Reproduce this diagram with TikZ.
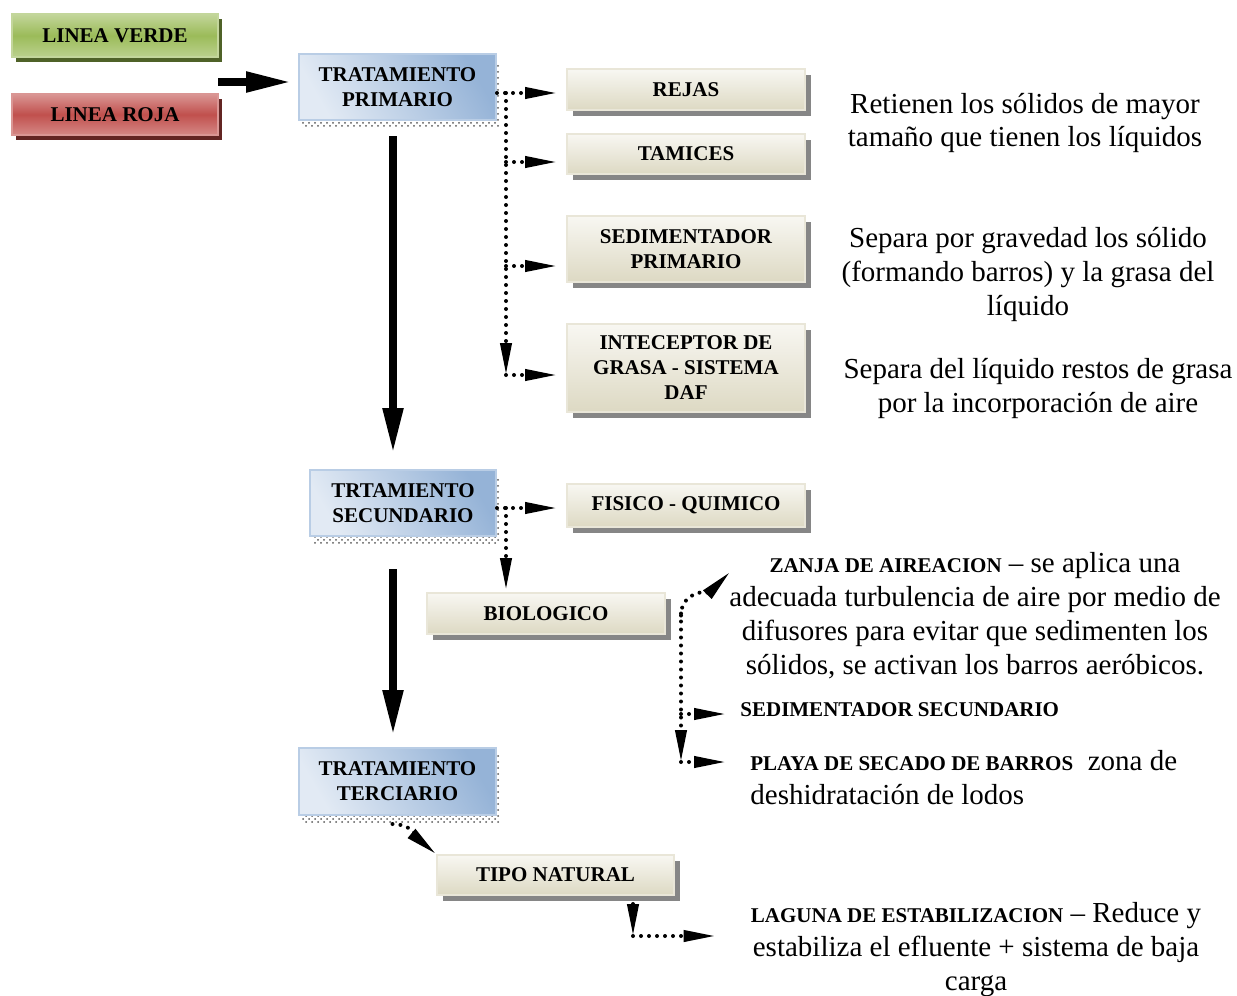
\documentclass[tikz,border=0pt]{standalone}
\usepackage{fontspec}
\setmainfont{Liberation Serif}
\usepackage{xcolor}
\usepackage{tikz}
\usetikzlibrary{calc}
\usetikzlibrary{arrows.meta,positioning,shadows}
\usetikzlibrary{patterns}

\definecolor{azulclaro}{HTML}{E2EAF4}
\definecolor{azuloscuro}{HTML}{95B3D7}
\definecolor{azulborde}{HTML}{B9CDE5}
\definecolor{beigeclaro}{HTML}{F8F7F2}
\definecolor{beigeoscuro}{HTML}{DDD9C3}
\definecolor{beigeborde}{HTML}{E9E6D8}
\definecolor{verdeclaro}{HTML}{C3D69B}
\definecolor{verdemedio}{HTML}{9BBB59}
\definecolor{verdesombra}{HTML}{4F6228}
\definecolor{rojoclaro}{HTML}{DA9694}
\definecolor{rojomedio}{HTML}{C0504D}
\definecolor{rojosombra}{HTML}{632523}

\newcommand{\textocaja}{\fontsize{10.5}{12.5}\selectfont\bfseries}
\newcommand{\textonota}{\fontsize{14.5}{17}\selectfont}

\tikzset{
  caja/.style={draw, line width=1pt, align=center, font=\textocaja, inner sep=0pt},
  caja azul/.style={caja, draw=azulborde, left color=azulclaro, right color=azuloscuro, shading angle=120,
    drop shadow={shadow xshift=1.5pt, shadow yshift=-3.5pt, fill=gray!45, pattern=crosshatch dots, pattern color=black!65, opacity=1}},
  caja beige/.style={caja, draw=beigeborde, top color=beigeclaro, bottom color=beigeoscuro,
    minimum width=119pt, drop shadow={shadow xshift=3pt, shadow yshift=-3pt, fill=gray!95, opacity=1}},
  caja verde/.style={caja, draw=verdeclaro, top color=verdeclaro, bottom color=verdeclaro!80!verdemedio, middle color=verdemedio,
    minimum width=103pt, drop shadow={shadow xshift=2pt, shadow yshift=-2.5pt, fill=verdesombra, opacity=1}},
  caja roja/.style={caja, draw=rojoclaro, top color=rojoclaro, bottom color=rojoclaro!80!rojomedio, middle color=rojomedio,
    minimum width=103pt, drop shadow={shadow xshift=2pt, shadow yshift=-2.5pt, fill=rojosombra, opacity=1}},
  nota/.style={align=center, font=\textonota, inner sep=0pt},
  flecha/.style={line width=4pt, -{Triangle[length=23pt,width=9.5pt]}},
  punteada/.style={line width=2pt, line cap=round, dash pattern=on 0pt off 4pt,
    -{Triangle[length=16pt,width=5.5pt]}}
}

\begin{document}
\begin{tikzpicture}[x=0.5pt,y=-0.5pt]
	\useasboundingbox (0,0) rectangle (1237,996);
	\node[caja verde, minimum height=21.5pt] (verde) at (115,35.5) {LINEA VERDE};
	\node[caja roja, minimum height=20.5pt] (roja) at (115,114.5) {LINEA ROJA};
	\node[caja azul, minimum width=98.5pt, minimum height=33pt] (prim) at (397.5,87) {TRATAMIENTO\\PRIMARIO};
	\node[caja azul, minimum width=93pt, minimum height=33pt] (sec) at (403,503) {TRTAMIENTO\\SECUNDARIO};
	\node[caja azul, minimum width=98.5pt, minimum height=33.5pt] (ter) at (397.5,781.5) {TRATAMIENTO\\TERCIARIO};
	\node[caja beige, minimum height=20.5pt] (rejas) at (686,89.5) {REJAS};
	\node[caja beige, minimum height=20pt] (tam) at (686,154) {TAMICES};
	\node[caja beige, minimum height=33pt] (sed) at (686,249) {SEDIMENTADOR\\PRIMARIO};
	\node[caja beige, minimum height=44pt] (int) at (686,368) {INTECEPTOR DE\\GRASA - SISTEMA\\DAF};
	\node[caja beige, minimum height=21.5pt] (fis) at (686,505.5) {FISICO - QUIMICO};
	\node[caja beige, minimum height=20.5pt] (bio) at (546,613.5) {BIOLOGICO};
	\node[caja beige, minimum width=118.5pt, minimum height=20pt] (tipo) at (555.5,875) {TIPO NATURAL};

	\node[nota] (ret) at (1025,123) {Retienen los sólidos de mayor\\tamaño que tienen los líquidos};
	\node[nota] (grav) at (1028,274) {Separa por gravedad los sólido\\(formando barros) y la grasa del\\líquido};
	\node[nota] (aire) at (1038,388) {Separa del líquido restos de grasa\\por la incorporación de aire};
	\node[nota] (zanja) at (975,616) {{\textocaja ZANJA DE AIREACION} – se aplica una\\adecuada turbulencia de aire por medio de\\difusores para evitar que sedimenten los\\sólidos, se activan los barros aeróbicos.};
	\node[nota, anchor=west] (sedsec) at (740,710) {\textocaja SEDIMENTADOR SECUNDARIO};
	\node[nota, align=left, anchor=north west] (playa) at (750,750) {{\textocaja PLAYA DE SECADO DE BARROS}\ \ zona de\\deshidratación de lodos};
	\node[nota] (laguna) at (976,950) {{\textocaja LAGUNA DE ESTABILIZACION} – Reduce y\\estabiliza el efluente + sistema de baja\\carga};

	\coordinate (entrada) at (218,82);
	\draw[flecha, shorten >=3pt] (entrada) -- (entrada -| prim.west);
	\draw[flecha, shorten <=7.5pt, shorten >=7.5pt] ([xshift=-2.25pt]prim.south) -- ([xshift=-2.25pt]prim.south |- sec.north);
	\draw[flecha, shorten <=16pt, shorten >=5.5pt] ([xshift=-5pt]sec.south) -- ([xshift=-5pt]sec.south |- ter.north);

	\coordinate (pp) at ([xshift=4.5pt,yshift=-3pt]prim.east);
	\draw[punteada, shorten >=4.5pt] ([yshift=-3pt]prim.east) -- ([yshift=-3pt]prim.east -| rejas.west);
	\draw[punteada] (pp) -- ([yshift=-3.5pt]int.west -| pp);
	\foreach \n/\d in {tam/4pt, sed/8.5pt, int/3.5pt}
		\draw[punteada, shorten >=4.5pt] ([yshift=-\d]\n.west -| pp) -- ([yshift=-\d]\n.west);

	\coordinate (ss) at ([xshift=4.5pt,yshift=-2.5pt]sec.east);
	\draw[punteada, shorten >=4.5pt] ([yshift=-2.5pt]sec.east) -- ([yshift=-2.5pt]sec.east -| fis.west);
	\draw[punteada, shorten >=1pt] (ss) -- (ss |- bio.north);

	\coordinate (bb) at ([xshift=7.5pt]bio.east);
	\coordinate (za) at (730,572);
	\coordinate (pl) at ([yshift=-6pt]playa.north west -| bb);
	\draw[punteada] ([yshift=-1pt]bb) to[out=90,in=225] (za);
	\draw[punteada] (bb) -- (pl);
	\draw[punteada, shorten >=7pt] ([yshift=-2pt]sedsec.west -| bb) -- ([yshift=-2pt]sedsec.west);
	\draw[punteada, shorten >=12pt] (pl) -- ([yshift=-6pt]playa.north west);

	\draw[punteada] ([xshift=-2.5pt,yshift=-4pt]ter.south) to[out=0,in=140] (tipo.north west);
	\coordinate (tt) at ([xshift=-21pt,yshift=-20pt]tipo.south east);
	\draw[punteada] ([yshift=-4pt]tipo.south east -| tt) -- (tt);
	\draw[punteada, shorten >=17.5pt] (tt) -- (tt -| laguna.west);
\end{tikzpicture}
\end{document}
